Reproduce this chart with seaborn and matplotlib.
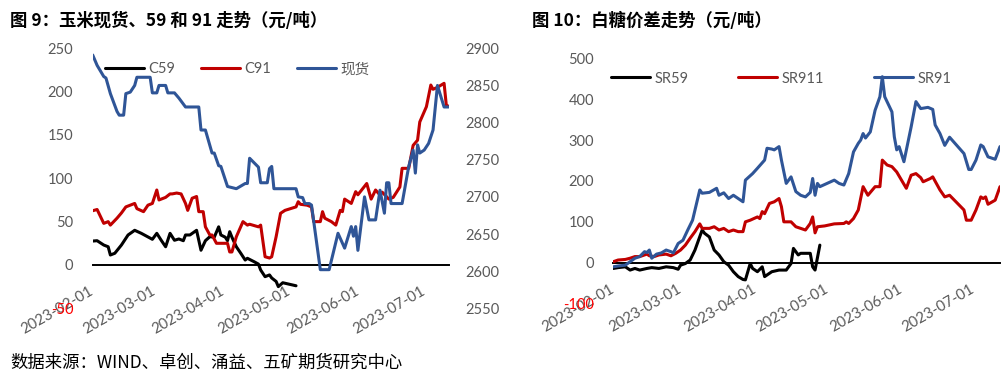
import matplotlib
matplotlib.use("Agg")
import matplotlib.pyplot as plt
import matplotlib.dates as mdates
import matplotlib.ticker as mticker
import numpy as np
import pandas as pd
import seaborn as sns

# ---------------- data: corn ----------------
c59_dates = ["02-01","02-03","02-06","02-08","02-09","02-11","02-14","02-17","02-20","02-23",
             "02-28","03-02","03-04","03-06","03-08","03-10","03-12","03-14","03-15","03-17",
             "03-20","03-22","03-24","03-26","03-28","03-30","03-31","04-02","04-03","04-04",
             "04-05","04-07","04-09","04-11","04-12","04-15","04-17","04-18","04-20","04-22",
             "04-23","04-25","04-26","04-28","05-04"]
c59_vals = [27.6,28,23,21,11.5,13.5,23,34.6,40,36.5,
            29.6,36.5,28.5,21,36.5,28.5,30,28,34.6,34.6,
            40,17,28,32.6,32,44,34.6,32,28,38.4,
            32,21,13.5,5.7,7.7,3.8,1,-5.8,-13.5,-11.5,
            -15,-19,-25,-20.5,-24]

c91_dates = ["02-01","02-03","02-06","02-08","02-09","02-12","02-14","02-16","02-20","02-21",
             "02-24","02-26","02-28","03-02","03-03","03-06","03-08","03-09","03-11","03-13",
             "03-15","03-16","03-18","03-20","03-21","03-23","03-24","03-26","03-27","03-29",
             "03-31","04-03","04-04","04-05","04-07","04-10","04-12","04-13","04-17","04-18",
             "04-20","04-22","04-23","04-25","04-27","04-29","05-04","05-05","05-06","05-09",
             "05-11","05-12","05-15","05-16","05-17","05-20","05-22","05-24","05-25","05-26",
             "05-29","05-31","06-01","06-05","06-07","06-09","06-11","06-12","06-15","06-17",
             "06-20","06-21","06-24","06-26","06-28","06-29","07-02","07-04","07-05","07-07",
             "07-10","07-11","07-12"]
c91_vals = [62.6,64,48,50,46,54,60,67,71,65,
            61.5,69,71,86.5,75,78,82,82,83,82,
            71,63,77,79,61.5,61.5,44,34.6,34.6,25,
            25,25,15,15,32.6,50,46,47,44,46,
            9.5,8,9.5,32.6,59.6,63,67,73,70,69,
            67,50,50,61.5,54,50,46,63,61.5,76,
            71,84.6,81,94,76,86.5,80.7,84,76,78,
            90,111.5,111.5,138,144,165,182.6,207.6,202.7,205,
            209.6,184.6,183]

spot_dates = ["02-01","02-03","02-06","02-07","02-09","02-12","02-13","02-15","02-16","02-18",
              "02-20","02-21","02-27","02-28","03-02","03-03","03-06","03-07","03-10","03-12",
              "03-15","03-21","03-22","03-24","03-27","03-28","03-30","03-31","04-03","04-07",
              "04-11","04-12","04-13","04-16","04-17","04-18","04-21","04-22","04-23","04-24",
              "05-04","05-05","05-07","05-08","05-10","05-11","05-15","05-19","05-23","05-26",
              "05-29","05-30","05-31","06-01","06-04","06-06","06-09","06-11","06-13","06-14",
              "06-15","06-16","06-21","06-24","06-26","06-27","06-28","06-29","07-01","07-03",
              "07-05","07-07","07-10","07-12"]
spot_vals = [2891,2877,2862,2860,2839,2815,2810,2810,2839,2841,
             2850,2861,2861,2840,2840,2850,2850,2840,2840,2833,
             2821,2821,2790,2790,2759,2759,2742,2741,2714,2711,
             2718,2718,2752,2743,2740,2719,2719,2738,2741,2711,
             2711,2700,2699,2691,2691,2689,2602,2602,2651,2631,
             2660,2647,2660,2628,2700,2669,2669,2709,2678,2719,
             2719,2691,2691,2741,2763,2732,2770,2759,2763,2772,
             2790,2850,2821,2821]

# ---------------- data: sugar ----------------
sr59_dates = ["02-01","02-03","02-06","02-08","02-10","02-12","02-15","02-17","02-20","02-23",
              "02-26","02-28","03-01","03-03","03-05","03-07","03-10","03-11","03-13","03-15",
              "03-17","03-19","03-21","03-23","03-25","03-27","03-28","03-30","03-31","04-02",
              "04-04","04-05","04-08","04-11","04-14","04-16","04-17","04-19","04-20","04-24",
              "04-25","04-26","04-28"]
sr59_vals = [-14,-12,-10,-18,-14,-18,-14,-12,-14,-10,
             -12,-16,-6,-2,6.6,31,80,72,63,31,
             19,2.5,-6,-22,-34,-41,-42,-2,-14,-22,
             -10,-34,-22,-18,-18,-2,35,19,23,23,
             -10,-18,43]

sr911_dates = ["02-01","02-03","02-06","02-08","02-10","02-12","02-15","02-16","02-18","02-20",
               "02-23","02-25","02-27","03-01","03-03","03-05","03-07","03-09","03-10","03-13",
               "03-15","03-17","03-19","03-21","03-23","03-25","03-27","03-28","03-30","04-02",
               "04-03","04-04","04-05","04-07","04-09","04-11","04-12","04-13","04-16","04-18",
               "04-20","04-22","04-24","04-25","04-26","04-27","04-30","05-04","05-08","05-09",
               "05-10","05-12","05-14","05-16","05-18","05-21","05-23","05-24","05-26","05-28",
               "05-30","06-01","06-03","06-05","06-07","06-09","06-10","06-13","06-14","06-17",
               "06-19","06-21","06-27","06-28","06-30","07-02","07-04","07-05","07-06","07-07",
               "07-10","07-12"]
sr911_vals = [2.5,6.6,8,11,15,15,21,17,15,19,
              21,17,23,31,43,60,76,95,84,84,
              88,80,84,76,80,76,76,100,104,112,
              108,125,120,145,149,157,137,100,100,88,
              84,80,96,112,73,88,90,95,96,100,
              96,108,129,186,165,186,186,251,239,235,
              222,202,182,214,218,208,198,206,210,178,
              161,165,129,104,104,129,161,157,161,143,
              153,186]

sr91_dates = ["02-01","02-03","02-06","02-08","02-10","02-12","02-14","02-15","02-16","02-17",
              "02-19","02-21","02-23","02-25","02-26","02-28","03-02","03-04","03-06","03-09",
              "03-10","03-13","03-16","03-17","03-19","03-21","03-23","03-25","03-27","03-28",
              "03-31","04-02","04-05","04-06","04-08","04-09","04-11","04-12","04-14","04-16",
              "04-18","04-20","04-22","04-24","04-25","04-26","04-27","04-28","05-01","05-04",
              "05-06","05-08","05-10","05-12","05-14","05-15","05-16","05-17","05-19","05-21",
              "05-23","05-24","05-25","05-28","05-29","05-30","05-31","06-02","06-05","06-07",
              "06-09","06-12","06-14","06-15","06-17","06-19","06-21","06-24","06-27","06-29",
              "06-30","07-02","07-04","07-05","07-07","07-10","07-12"]
sr91_vals = [-10,-8,-6,2.5,11,15,27,25,31,11,
             21,24,31,27,24,47,55,80,104,178,
             170,172,182,165,171,157,165,157,149,202,
             218,231,251,280,278,276,284,251,194,210,
             174,165,161,172,206,165,194,186,194,202,
             194,190,218,271,292,300,316,305,320,373,
             406,455,406,369,308,276,284,247,332,394,
             377,380,375,337,316,287,307,287,267,228,
             228,251,288,284,259,253,284]

left_title = "图 9：玉米现货、59 和 91 走势（元/吨）"
right_title = "图 10：白糖价差走势（元/吨）"
source_text = "数据来源：WIND、卓创、涌益、五矿期货研究中心"
month_ticks = ["2023-02-01","2023-03-01","2023-04-01","2023-05-01","2023-06-01","2023-07-01"]
corn_left_ticks = [-50, 0, 50, 100, 150, 200, 250]
corn_right_ticks = [2550, 2600, 2650, 2700, 2750, 2800, 2850, 2900]
sugar_ticks = [-100, 0, 100, 200, 300, 400, 500]

# ---------------- style ----------------
sns.set_style("white")
plt.rcParams["font.family"] = ["Lato", "Noto Sans CJK SC"]
plt.rcParams["axes.unicode_minus"] = False

BLACK = "#000000"
RED = "#C00000"
BLUE = "#2F5597"
GRAY = "#595959"
FS = 10.5
LW = 2.2


def to_df(dates, vals):
    return pd.DataFrame({"date": pd.to_datetime(["2023-" + d for d in dates]), "value": vals})


def style_main(ax, ticks, lo, hi, pad_left):
    ax.set_xlim(pd.Timestamp("2023-02-01"), pd.Timestamp("2023-07-12"))
    ax.set_ylim(lo, hi)
    ax.set_yticks(ticks)
    for s in ["top", "right", "left"]:
        ax.spines[s].set_visible(False)
    ax.spines["bottom"].set_position(("data", 0))
    ax.spines["bottom"].set_color("black")
    ax.spines["bottom"].set_linewidth(1.4)
    ax.spines["bottom"].set_zorder(1)
    ax.set_xticks(pd.to_datetime(month_ticks))
    ax.xaxis.set_major_formatter(mdates.DateFormatter("%Y-%m-%d"))
    ax.tick_params(axis="x", direction="out", length=4, width=1.4, color="black",
                   labelsize=10.8, labelcolor=GRAY, pad=14)
    ax.tick_params(axis="y", length=0, labelsize=FS, labelcolor=GRAY, pad=pad_left)
    for lab in ax.get_xticklabels():
        lab.set_rotation(30)
        lab.set_ha("right")
        lab.set_va("center")
        lab.set_rotation_mode("anchor")
    for lab in ax.get_yticklabels():
        if lab.get_position()[1] < 0:
            lab.set_color("#FF0000")
            lab.set_zorder(5)
    ax.set_xlabel("")
    ax.set_ylabel("")
    ax.grid(False)


fig = plt.figure(figsize=(10.05, 3.83), dpi=100)
W, H = 1005.0, 383.0

# ---------------- left chart ----------------
axL = fig.add_axes([92.7 / W, (H - 308.3) / H, 355.8 / W, 260.0 / H])
axL.patch.set_alpha(0)
axR = axL.twinx()
sns.lineplot(data=to_df(c59_dates, c59_vals), x="date", y="value", ax=axL,
             color=BLACK, linewidth=LW, label="C59", legend=False)
sns.lineplot(data=to_df(c91_dates, c91_vals), x="date", y="value", ax=axL,
             color=RED, linewidth=LW, label="C91", legend=False)
sns.lineplot(data=to_df(spot_dates, spot_vals), x="date", y="value", ax=axR,
             color=BLUE, linewidth=LW, label="现货", legend=False)
style_main(axL, corn_left_ticks, -50, 250, 14)
axR.set_ylim(2550, 2900)
axR.set_yticks(corn_right_ticks)
axR.yaxis.set_major_formatter(mticker.FuncFormatter(lambda v, p: f"{int(v)}"))
for s in axR.spines.values():
    s.set_visible(False)
axR.tick_params(axis="y", length=0, labelsize=FS, labelcolor=GRAY, pad=12)
axR.set_ylabel("")
axR.grid(False)
h1, l1 = axL.get_legend_handles_labels()
h2, l2 = axR.get_legend_handles_labels()
legL = axR.legend(h1 + h2, l1 + l2, ncol=3, loc="upper left", bbox_to_anchor=(0.034, 0.947),
                  frameon=False, fontsize=FS, handlelength=2.7, handletextpad=0.3,
                  columnspacing=1.75, borderaxespad=0, borderpad=0)
for t in legL.get_texts():
    t.set_color(GRAY)

# ---------------- right chart ----------------
axS = fig.add_axes([613.3 / W, (H - 303.6) / H, 386.7 / W, 245.3 / H])
sns.lineplot(data=to_df(sr59_dates, sr59_vals), x="date", y="value", ax=axS,
             color=BLACK, linewidth=LW, label="SR59", legend=False)
sns.lineplot(data=to_df(sr911_dates, sr911_vals), x="date", y="value", ax=axS,
             color=RED, linewidth=LW, label="SR911", legend=False)
sns.lineplot(data=to_df(sr91_dates, sr91_vals), x="date", y="value", ax=axS,
             color=BLUE, linewidth=LW, label="SR91", legend=False)
style_main(axS, sugar_ticks, -100, 500, 14)
legS = axS.legend(ncol=3, loc="upper left", bbox_to_anchor=(-0.007, 0.946),
                  frameon=False, fontsize=FS, handlelength=2.7, handletextpad=0.3,
                  columnspacing=3.4, borderaxespad=0, borderpad=0)
for t in legS.get_texts():
    t.set_color(GRAY)

# ---------------- texts ----------------
fig.text(10 / W, 1 - 20.5 / H, left_title, ha="left", va="center", fontsize=12.5,
         fontweight="bold", family=["Noto Sans CJK SC"], color="black")
fig.text(531.7 / W, 1 - 20.5 / H, right_title, ha="left", va="center", fontsize=12.5,
         fontweight="bold", family=["Noto Sans CJK SC"], color="black")
fig.text(10 / W, 1 - 363 / H, source_text, ha="left", va="center", fontsize=12.5,
         family=["Noto Sans CJK SC"], color="black")

fig.savefig("out.png", dpi=100)
